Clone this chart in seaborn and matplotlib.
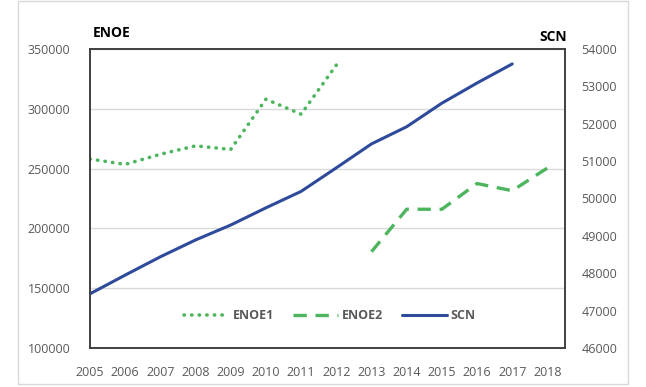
import numpy as np
import pandas as pd
import seaborn as sns
import matplotlib.pyplot as plt
from matplotlib.patches import Rectangle

# ENOE (left axis) and SCN (right axis) series
years_enoe1 = [2005, 2006, 2007, 2008, 2009, 2010, 2011, 2012]
enoe1 = [258000, 253500, 262000, 269000, 266000, 308000, 295500, 336500]

years_enoe2 = [2013, 2014, 2015, 2016, 2017, 2018]
enoe2 = [180500, 216000, 216000, 237500, 231500, 250500]

years_scn = [2005, 2006, 2007, 2008, 2009, 2010, 2011, 2012, 2013, 2014, 2015, 2016, 2017]
scn = [47450, 47950, 48440, 48890, 49290, 49750, 50190, 50820, 51460, 51920, 52550, 53090, 53600]

all_years = list(range(2005, 2019))

green = '#4DB55E'
blue = '#2E4A9A'
grey = '#595959'

sns.set_theme(style="white")
plt.rcParams['font.family'] = ['Open Sans', 'DejaVu Sans']

fig = plt.figure(figsize=(6.46, 3.87), dpi=100)
ax = fig.add_axes([0.1393, 0.1008, 0.7353, 0.7726])
ax2 = ax.twinx()

df1 = pd.DataFrame({'year': years_enoe1, 'value': enoe1})
df2 = pd.DataFrame({'year': years_enoe2, 'value': enoe2})
df3 = pd.DataFrame({'year': years_scn, 'value': scn})

sns.lineplot(data=df1, x='year', y='value', ax=ax, color=green, linewidth=2.6,
             label='ENOE1', legend=False)
sns.lineplot(data=df2, x='year', y='value', ax=ax, color=green, linewidth=2.4,
             label='ENOE2', legend=False)
sns.lineplot(data=df3, x='year', y='value', ax=ax2, color=blue, linewidth=2.2,
             label='SCN', legend=False)

l1, l2 = ax.get_lines()[:2]
l1.set_linestyle((0, (0.1, 2.0)))
l1.set_dash_capstyle('round')
l2.set_linestyle((0, (4, 2.6)))

ax.set_xlim(2005, 2018.5)
ax.set_ylim(100000, 350000)
ax2.set_ylim(46000, 54000)
ax.set_xticks(all_years)
ax.set_xticklabels([str(y) for y in all_years])
ax.set_yticks(range(100000, 350001, 50000))
ax2.set_yticks(range(46000, 54001, 1000))

ax.set_xlabel('')
ax.set_ylabel('')
ax2.set_ylabel('')

for a in (ax, ax2):
    a.tick_params(axis='both', length=0, labelsize=9, labelcolor=grey)
    for s in a.spines.values():
        s.set_color('#404040')
        s.set_linewidth(1.2)
ax.tick_params(axis='x', pad=13)
ax.tick_params(axis='y', pad=14)
ax2.tick_params(axis='y', pad=12)

ax.grid(axis='y', color='#D9D9D9', linewidth=1)
ax.set_axisbelow(True)

fig.text(0.144, 0.905, 'ENOE', fontsize=10, fontweight='bold', color='black')
fig.text(0.877, 0.893, 'SCN', fontsize=10, fontweight='bold', color='black', ha='right')

handles = [l1, l2, ax2.get_lines()[0]]
leg = ax2.legend(handles, ['ENOE1', 'ENOE2', 'SCN'], loc='center',
                 bbox_to_anchor=(0.505, 0.107), ncol=3, frameon=False,
                 fontsize=9, handlelength=3.6, columnspacing=1.5, handletextpad=0.3)
for t in leg.get_texts():
    t.set_color(grey)
    t.set_fontweight('bold')

# outer chart border
fig.patches.append(Rectangle((0.028, 0.008), 0.944, 0.99, transform=fig.transFigure,
                             fill=False, edgecolor='#D9D9D9', linewidth=1))

fig.savefig('out.png', dpi=100)
